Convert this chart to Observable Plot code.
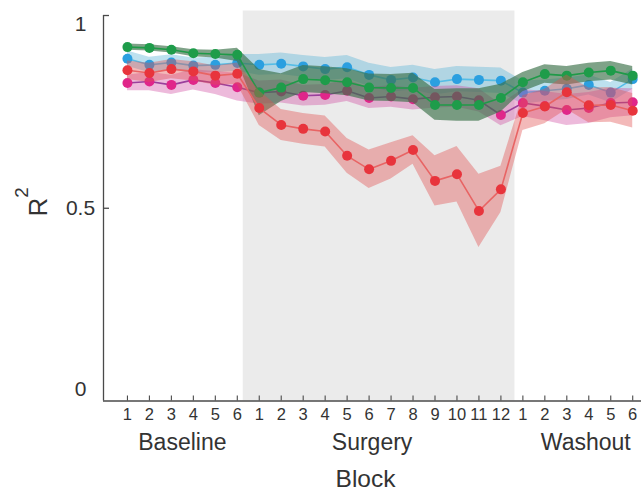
<!DOCTYPE html>
<html><head><meta charset="utf-8">
<script src="https://cdn.jsdelivr.net/npm/d3@7"></script>
<script src="https://cdn.jsdelivr.net/npm/@observablehq/plot@0.6"></script>
<style>
html,body{margin:0;padding:0;background:#fff;}
#chart svg{display:block;}
</style></head><body><div id="chart"></div>
<script>
// ---- data ----
const blocks = [1,2,3,4,5,6,7,8,9,10,11,12,13,14,15,16,17,18,19,20,21,22,23,24];
const blockLabels = ["1","2","3","4","5","6","1","2","3","4","5","6","7","8","9","10","11","12","1","2","3","4","5","6"];
const phaseNames = ["Baseline","Surgery","Washout"];
const phaseFirst = [1, 7, 19];
const phaseLast = [6, 18, 24];
const surgeryShade = [6.27, 18.64];
const yTicks = [0, 0.5, 1];
const yTickLabels = ["0", "0.5", "1"];

const blueMean = [0.888,0.872,0.878,0.870,0.872,0.877, 0.872,0.875,0.868,0.861,0.866,0.846,0.833,0.839,0.827,0.835,0.833,0.831, 0.800,0.805,0.810,0.820,0.800,0.835];
const blueErr  = [0.020,0.020,0.020,0.020,0.020,0.022, 0.027,0.028,0.028,0.030,0.030,0.030,0.032,0.032,0.033,0.033,0.033,0.033, 0.030,0.028,0.028,0.026,0.026,0.026];

const magentaMean = [0.825,0.829,0.820,0.833,0.825,0.814, 0.800,0.803,0.792,0.794,0.805,0.786,0.790,0.783,0.788,0.790,0.780,0.742, 0.773,0.765,0.755,0.760,0.773,0.775];
const magentaErr  = [0.020,0.024,0.025,0.026,0.030,0.036, 0.030,0.030,0.027,0.027,0.028,0.027,0.028,0.028,0.028,0.028,0.030,0.028, 0.035,0.038,0.040,0.040,0.038,0.035];

const greenMean = [0.918,0.916,0.911,0.902,0.900,0.898, 0.800,0.813,0.835,0.832,0.827,0.813,0.812,0.812,0.768,0.768,0.768,0.786, 0.827,0.848,0.844,0.852,0.857,0.844];
const greenErr  = [0.008,0.008,0.008,0.009,0.010,0.017, 0.060,0.036,0.035,0.035,0.035,0.035,0.035,0.038,0.040,0.042,0.042,0.036, 0.025,0.024,0.024,0.024,0.024,0.024];

const redMean = [0.858,0.851,0.861,0.855,0.844,0.849, 0.760,0.716,0.706,0.699,0.636,0.601,0.623,0.651,0.571,0.588,0.493,0.549, 0.747,0.764,0.801,0.767,0.768,0.753];
const redErr  = [0.024,0.025,0.025,0.025,0.025,0.028, 0.045,0.040,0.040,0.040,0.045,0.050,0.047,0.037,0.065,0.072,0.095,0.060, 0.045,0.045,0.045,0.045,0.045,0.045];

// ---- styles ----
const styles = {
  blue:    {band: "#5ab4d8", bandOpacity: 0.40, line: "#55bde6", dot: "#2b9fe0"},
  magenta: {band: "#d04aa0", bandOpacity: 0.38, line: "#9a3f9c", dot: "#e0268a"},
  green:   {band: "#3a7048", bandOpacity: 0.65, line: "#1f9a48", dot: "#1e9c4a"},
  red:     {band: "#e05050", bandOpacity: 0.40, line: "#e86464", dot: "#e8343c"}
};
const series = [
  {key: "blue", mean: blueMean, err: blueErr},
  {key: "magenta", mean: magentaMean, err: magentaErr},
  {key: "green", mean: greenMean, err: greenErr},
  {key: "red", mean: redMean, err: redErr}
];

const W = 641, H = 491;
const mL = 103, mR = 0, mT = 10.5, mB = 90.5;
const xDomain = [-0.09, 24.4];
const yDomain = [0, 1.0117];
const axisColor = "#4a4a4a";
const textColor = "#333";
const font = "'Liberation Sans', Arial, Helvetica, sans-serif";

const seriesMarks = series.flatMap(s => {
  const st = styles[s.key];
  const rows = blocks.map((b, i) => ({block: b, mean: s.mean[i], lo: s.mean[i] - s.err[i], hi: s.mean[i] + s.err[i]}));
  return [
    Plot.areaY(rows, {x: "block", y1: "lo", y2: "hi", fill: st.band, fillOpacity: st.bandOpacity}),
    Plot.line(rows, {x: "block", y: "mean", stroke: st.line, strokeWidth: 1.6}),
    Plot.dot(rows, {x: "block", y: "mean", r: 5, fill: st.dot, stroke: "none"})
  ];
});

const phaseRows = phaseNames.map((p, i) => ({name: p, center: (phaseFirst[i] + phaseLast[i]) / 2}));
const phaseShift = {Baseline: 0, Surgery: -8, Washout: 8};

const frameW = W - mL - mR, frameH = H - mT - mB;

const chart = Plot.plot({
  width: W, height: H,
  marginLeft: mL, marginRight: mR, marginTop: mT, marginBottom: mB,
  style: {fontFamily: font, background: "#fff"},
  x: {domain: xDomain},
  y: {domain: yDomain},
  marks: [
    Plot.rect([surgeryShade], {x1: d => d[0], x2: d => d[1], fill: "#ebebeb"}),
    ...seriesMarks,
    // axis lines
    Plot.ruleY([0], {stroke: axisColor, strokeWidth: 1.3}),
    Plot.ruleX([xDomain[0]], {y1: 0, y2: 1, stroke: axisColor, strokeWidth: 1.3}),
    // inward ticks
    Plot.tickX(blocks, {x: d => d, stroke: axisColor, strokeWidth: 1.1, insetTop: frameH - 5}),
    Plot.tickY([0.5, 1], {y: d => d, stroke: axisColor, strokeWidth: 1.3, insetRight: frameW - 6}),
    // tick labels
    Plot.axisX(blocks, {tickSize: 0, tickPadding: 7, fontSize: 16.5, fill: textColor, label: null,
      tickFormat: d => blockLabels[d - 1]}),
    Plot.axisY([yTicks[2]], {tickSize: 0, tickPadding: 0, textAnchor: "middle", dx: -23, dy: 9, fontSize: 21, fill: textColor, label: null, tickFormat: () => yTickLabels[2]}),
    Plot.axisY([yTicks[1]], {tickSize: 0, tickPadding: 0, textAnchor: "middle", dx: -23, dy: 0.5, fontSize: 21, fill: textColor, label: null, tickFormat: () => yTickLabels[1]}),
    Plot.axisY([yTicks[0]], {tickSize: 0, tickPadding: 0, textAnchor: "middle", dx: -23, dy: -12, fontSize: 21, fill: textColor, label: null, tickFormat: () => yTickLabels[0]}),
    // phase labels
    ...phaseRows.map(p => Plot.text([p], {x: "center", frameAnchor: "bottom", lineAnchor: "middle", text: "name", dy: 42, dx: phaseShift[p.name], fontSize: 23, fill: textColor})),
    // axis titles
    Plot.text(["Block"], {frameAnchor: "bottom", lineAnchor: "middle", text: d => d, dy: 78, dx: -7, fontSize: 24.5, fill: textColor}),
    Plot.text(["R2"], {frameAnchor: "left", textAnchor: "middle", lineAnchor: "middle", text: d => d, rotate: -90, dx: -64.5, dy: -4, fontSize: 26, fill: textColor})
  ]
});

// superscript for R2
d3.select(chart).selectAll("text").each(function() {
  if (this.textContent === "R2") {
    this.textContent = "R";
    d3.select(this).append("tspan").attr("font-size", "0.72em").attr("dy", "-1.05em").text("2");
  }
});

document.getElementById("chart").appendChild(chart);
</script>
</body></html>
